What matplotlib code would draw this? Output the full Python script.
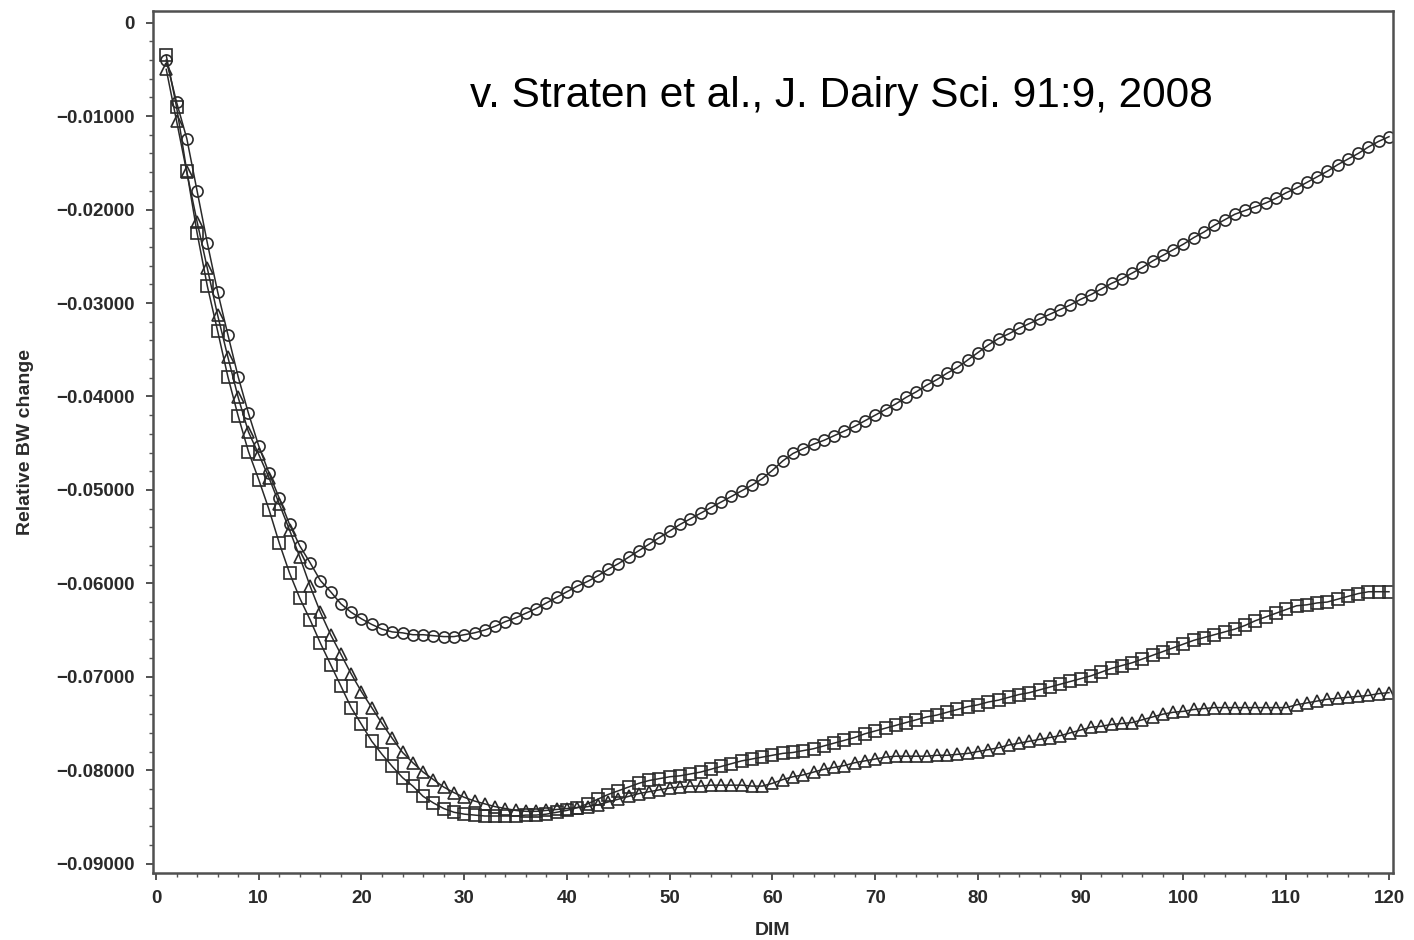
import matplotlib
matplotlib.use("Agg")
import matplotlib.pyplot as plt
from matplotlib.ticker import MultipleLocator

days = list(range(1, 121))

circle_vals = [
    -0.0040, -0.0085, -0.0124, -0.0180, -0.0236, -0.0288, -0.0334, -0.0379, -0.0418, -0.0453,
    -0.0482, -0.0509, -0.0537, -0.0560, -0.0578, -0.0597, -0.0609, -0.0622, -0.0631, -0.0638,
    -0.0644, -0.0649, -0.0652, -0.0653, -0.0655, -0.0655, -0.0656, -0.0657, -0.0657, -0.0655,
    -0.0653, -0.0650, -0.0646, -0.0641, -0.0637, -0.0632, -0.0627, -0.0621, -0.0615, -0.0609,
    -0.0603, -0.0598, -0.0592, -0.0585, -0.0579, -0.0572, -0.0565, -0.0558, -0.0551, -0.0544,
    -0.0537, -0.0531, -0.0525, -0.0519, -0.0513, -0.0507, -0.0501, -0.0495, -0.0488, -0.0479,
    -0.0469, -0.0461, -0.0456, -0.0451, -0.0447, -0.0442, -0.0437, -0.0432, -0.0426, -0.0420,
    -0.0414, -0.0408, -0.0401, -0.0395, -0.0388, -0.0382, -0.0375, -0.0369, -0.0361, -0.0353,
    -0.0345, -0.0338, -0.0333, -0.0327, -0.0322, -0.0317, -0.0312, -0.0307, -0.0302, -0.0296,
    -0.0291, -0.0285, -0.0279, -0.0274, -0.0268, -0.0262, -0.0255, -0.0249, -0.0243, -0.0237,
    -0.0230, -0.0224, -0.0217, -0.0211, -0.0205, -0.0201, -0.0197, -0.0193, -0.0188, -0.0182,
    -0.0177, -0.0171, -0.0165, -0.0159, -0.0152, -0.0146, -0.0140, -0.0133, -0.0127, -0.0122,
]

square_vals = [
    -0.0035, -0.0090, -0.0159, -0.0225, -0.0282, -0.0330, -0.0379, -0.0421, -0.0459, -0.0489,
    -0.0521, -0.0557, -0.0589, -0.0616, -0.0639, -0.0664, -0.0687, -0.0710, -0.0733, -0.0751,
    -0.0769, -0.0783, -0.0796, -0.0808, -0.0817, -0.0828, -0.0835, -0.0841, -0.0845, -0.0847,
    -0.0848, -0.0849, -0.0849, -0.0849, -0.0849, -0.0848, -0.0848, -0.0847, -0.0845, -0.0843,
    -0.0840, -0.0836, -0.0831, -0.0826, -0.0822, -0.0818, -0.0814, -0.0811, -0.0809, -0.0807,
    -0.0806, -0.0804, -0.0802, -0.0799, -0.0796, -0.0793, -0.0790, -0.0788, -0.0786, -0.0784,
    -0.0782, -0.0781, -0.0779, -0.0777, -0.0774, -0.0771, -0.0768, -0.0765, -0.0761, -0.0758,
    -0.0755, -0.0752, -0.0749, -0.0746, -0.0743, -0.0741, -0.0738, -0.0735, -0.0732, -0.0730,
    -0.0727, -0.0725, -0.0722, -0.0719, -0.0717, -0.0714, -0.0711, -0.0708, -0.0705, -0.0702,
    -0.0699, -0.0695, -0.0691, -0.0688, -0.0685, -0.0681, -0.0677, -0.0673, -0.0669, -0.0665,
    -0.0661, -0.0658, -0.0655, -0.0652, -0.0649, -0.0645, -0.0640, -0.0636, -0.0632, -0.0628,
    -0.0624, -0.0623, -0.0621, -0.0620, -0.0617, -0.0614, -0.0611, -0.0609, -0.0609, -0.0609,
]

triangle_vals = [
    -0.0050, -0.0105, -0.0160, -0.0213, -0.0263, -0.0313, -0.0358, -0.0401, -0.0438, -0.0462,
    -0.0487, -0.0515, -0.0543, -0.0572, -0.0603, -0.0631, -0.0655, -0.0676, -0.0697, -0.0716,
    -0.0733, -0.0750, -0.0766, -0.0781, -0.0792, -0.0802, -0.0810, -0.0818, -0.0824, -0.0829,
    -0.0833, -0.0836, -0.0839, -0.0841, -0.0843, -0.0844, -0.0844, -0.0843, -0.0842, -0.0841,
    -0.0840, -0.0839, -0.0837, -0.0834, -0.0831, -0.0828, -0.0825, -0.0823, -0.0821, -0.0819,
    -0.0818, -0.0817, -0.0817, -0.0816, -0.0816, -0.0816, -0.0816, -0.0817, -0.0817, -0.0814,
    -0.0810, -0.0807, -0.0805, -0.0802, -0.0799, -0.0797, -0.0795, -0.0792, -0.0790, -0.0788,
    -0.0786, -0.0785, -0.0785, -0.0785, -0.0785, -0.0784, -0.0784, -0.0783, -0.0782, -0.0780,
    -0.0778, -0.0776, -0.0773, -0.0771, -0.0769, -0.0767, -0.0765, -0.0763, -0.0760, -0.0757,
    -0.0754, -0.0753, -0.0751, -0.0750, -0.0749, -0.0746, -0.0743, -0.0740, -0.0738, -0.0737,
    -0.0735, -0.0734, -0.0733, -0.0733, -0.0733, -0.0733, -0.0733, -0.0733, -0.0733, -0.0733,
    -0.0730, -0.0728, -0.0726, -0.0724, -0.0723, -0.0722, -0.0721, -0.0720, -0.0718, -0.0717,
]

x_ticks = [0, 10, 20, 30, 40, 50, 60, 70, 80, 90, 100, 110, 120]
y_ticks = [0, -0.01, -0.02, -0.03, -0.04, -0.05, -0.06, -0.07, -0.08, -0.09]
x_label = "DIM"
y_label = "Relative BW change"
note = "v. Straten et al., J. Dairy Sci. 91:9, 2008"

plt.rcParams['font.family'] = ['Liberation Sans', 'DejaVu Sans']

fig = plt.figure(figsize=(14.14, 9.40), dpi=100)
ax = fig.add_axes([153/1414, 1 - 873/940, (1393 - 153)/1414, (873 - 11)/940])

ink = '#2a2a2a'
ax.plot(days, circle_vals, color=ink, lw=1.1, marker='o', ms=8.0,
        mfc='none', mec=ink, mew=1.2)
ax.plot(days, triangle_vals, color=ink, lw=1.1, marker='^', ms=8.5,
        mfc='none', mec=ink, mew=1.2)
ax.plot(days, square_vals, color=ink, lw=1.1, marker='s', ms=9.0,
        mfc='none', mec=ink, mew=1.2)

ax.set_xlim(-0.29, 120.39)
ax.set_ylim(-0.0910, 0.00125)

ax.set_xticks(x_ticks)
ax.set_yticks(y_ticks)
ax.xaxis.set_minor_locator(MultipleLocator(2))
ax.yaxis.set_minor_locator(MultipleLocator(0.002))
ax.set_xticklabels([str(t) for t in x_ticks])
ax.set_yticklabels(['0'] + [('%.5f' % t).replace('-', '\u2212') for t in y_ticks[1:]])

ax.tick_params(axis='both', which='major', direction='out', length=5, width=1.3,
               color='#444444', labelsize=13.5, labelcolor='#2a2a2a')
ax.tick_params(axis='both', which='minor', direction='out', length=3, width=1.0,
               color='#555555')
ax.tick_params(axis='x', which='major', pad=7)
ax.tick_params(axis='y', which='major', pad=8)
for lab in ax.get_xticklabels() + ax.get_yticklabels():
    lab.set_fontweight('bold')

for sp in ax.spines.values():
    sp.set_color('#505050')
    sp.set_linewidth(1.8)

ax.set_xlabel(x_label, fontsize=14, fontweight='bold', color='#2a2a2a', labelpad=11)
ax.set_ylabel(y_label, fontsize=14, fontweight='bold', color='#2a2a2a')
ax.yaxis.set_label_coords(-(153 - 34) / 1240, 0.5)

fig.text(470/1414, 1 - 96/940, note, fontsize=30.5, color='black',
         ha='left', va='center')

fig.savefig('out.png', dpi=100)
